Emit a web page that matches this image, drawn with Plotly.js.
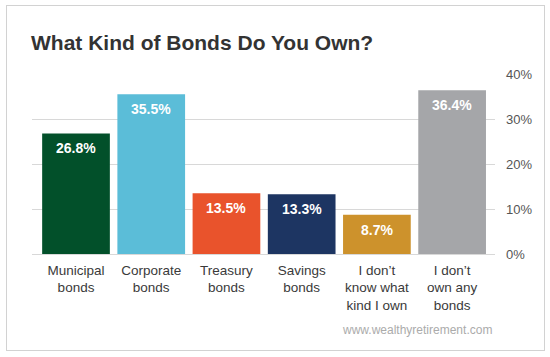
<!DOCTYPE html>
<html>
<head>
<meta charset="utf-8">
<script src="https://cdn.plot.ly/plotly-3.0.1.min.js"></script>
<style>
  html, body { margin: 0; padding: 0; background: #ffffff; }
  #wrap { position: relative; width: 550px; height: 357px; overflow: hidden; }
  #chart { position: absolute; left: 0; top: 0; width: 550px; height: 357px; }
  #card { position: absolute; left: 6px; top: 5px; width: 537px; height: 344px;
          border: 1px solid #d2d2d2; pointer-events: none; }
</style>
</head>
<body>
<div id="wrap">
  <div id="chart"></div>
  <div id="card"></div>
</div>
<script>
// ---- data ----
const categories = [
  "Municipal<br>bonds",
  "Corporate<br>bonds",
  "Treasury<br>bonds",
  "Savings<br>bonds",
  "I don\u2019t<br>know what<br>kind I own",
  "I don\u2019t<br>own any<br>bonds"
];
const values = [26.8, 35.5, 13.5, 13.3, 8.7, 36.4];
const valueLabels = ["26.8%", "35.5%", "13.5%", "13.3%", "8.7%", "36.4%"];
const barColors = ["#02502a", "#5bbdd8", "#e9532c", "#1d3562", "#cd922c", "#a5a6a9"];
const yTickVals = [0, 10, 20, 30, 40];
const yTickText = ["0%", "10%", "20%", "30%", "40%"];

const FONT = "'Helvetica Neue', Helvetica, 'Liberation Sans', Arial, sans-serif";

const trace = {
  type: "bar",
  x: categories,
  y: values,
  marker: { color: barColors, line: { width: 0 } },
  hoverinfo: "skip"
};

const labelAnnotations = categories.map((c, i) => ({
  x: c, y: values[i], xref: "x", yref: "y",
  text: "<b>" + valueLabels[i] + "</b>",
  showarrow: false, yanchor: "top", xanchor: "center", yshift: -5,
  font: { family: FONT, size: 14, color: "#ffffff" }
}));

const layout = {
  width: 550, height: 357,
  margin: { l: 32, r: 55, t: 74, b: 103, pad: 0 },
  paper_bgcolor: "rgba(0,0,0,0)",
  plot_bgcolor: "rgba(0,0,0,0)",
  bargap: 0.1,
  showlegend: false,
  title: {
    text: "<b>What Kind of Bonds Do You Own?</b>",
    font: { family: FONT, size: 21, color: "#333333" },
    x: 0, xref: "paper", xanchor: "left",
    y: 1, yref: "container", yanchor: "top", pad: { t: 35, l: -1 }
  },
  xaxis: {
    type: "category",
    range: [-0.585, 5.57],
    showgrid: false, zeroline: false, showline: false,
    ticks: "", ticklabelstandoff: 6,
    tickfont: { family: FONT, size: 13.5, color: "#3a3a3a" },
    fixedrange: true
  },
  yaxis: {
    side: "right",
    range: [0, 40],
    tickvals: yTickVals, ticktext: yTickText,
    showgrid: true, gridcolor: "#d8d8d8", gridwidth: 1,
    zeroline: true, zerolinecolor: "#d8d8d8", zerolinewidth: 1,
    showline: false, ticks: "", ticklabelstandoff: 10,
    tickfont: { family: FONT, size: 13, color: "#555555" },
    fixedrange: true
  },
  annotations: labelAnnotations.concat([{
    xref: "paper", yref: "paper", x: 0.998, y: -0.42,
    xanchor: "right", yanchor: "middle",
    text: "www.wealthyretirement.com", showarrow: false,
    font: { family: FONT, size: 12, color: "#ababab" }
  }])
};

Plotly.newPlot("chart", [trace], layout, { displayModeBar: false, staticPlot: true });
</script>
</body>
</html>
